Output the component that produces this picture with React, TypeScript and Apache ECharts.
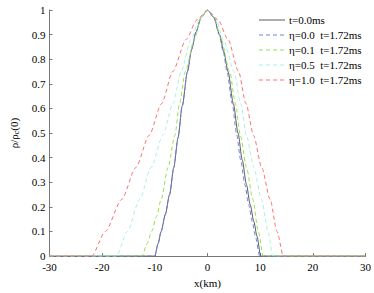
import React, { useEffect, useRef } from "react";
import * as echarts from "echarts";

const xTicks = [-30, -20, -10, 0, 10, 20, 30];
const yTicks = [0, 0.1, 0.2, 0.3, 0.4, 0.5, 0.6, 0.7, 0.8, 0.9, 1];

const seriesNames = [
  "t=0.0ms",
  "η=0.0  t=1.72ms",
  "η=0.1  t=1.72ms",
  "η=0.5  t=1.72ms",
  "η=1.0  t=1.72ms",
];

const initial: number[][] = [
  [-30, 0], [-10, 0], [-9.4, 0.05], [-8.8, 0.1], [-8.0, 0.17], [-7.2, 0.25], [-6.4, 0.36],
  [-5.6, 0.48], [-4.8, 0.61], [-3.8, 0.75], [-3.0, 0.84], [-2.2, 0.91], [-1.2, 0.97], [0, 1],
  [1.2, 0.97], [2.3, 0.9], [3.1, 0.83], [3.9, 0.75], [4.9, 0.62], [5.8, 0.5], [6.6, 0.39],
  [7.4, 0.29], [8.1, 0.21], [8.8, 0.14], [9.4, 0.08], [10.1, 0], [30, 0],
];

const eta00: number[][] = [
  [-30, 0], [-10, 0], [-9.4, 0.05], [-8.8, 0.1], [-8.0, 0.17], [-7.2, 0.25], [-6.4, 0.36],
  [-5.6, 0.48], [-4.8, 0.61], [-3.8, 0.75], [-3.0, 0.84], [-2.2, 0.91], [-1.2, 0.97], [0, 1],
  [1.2, 0.97], [2.2, 0.9], [3.0, 0.83], [3.7, 0.75], [4.7, 0.62], [5.5, 0.5], [6.3, 0.39],
  [7.1, 0.29], [7.8, 0.21], [8.5, 0.14], [9.1, 0.08], [9.9, 0], [30, 0],
];

const eta01: number[][] = [
  [-30, 0], [-12.4, 0], [-11.5, 0.05], [-10.6, 0.1], [-9.7, 0.16], [-8.8, 0.23], [-7.5, 0.36],
  [-6.2, 0.49], [-5.3, 0.62], [-4.2, 0.75], [-2.5, 0.88], [-1.2, 0.97], [0, 1], [1.3, 0.97],
  [2.6, 0.88], [4.2, 0.75], [5.3, 0.62], [6.25, 0.49], [7.4, 0.36], [8.6, 0.23], [9.65, 0.1],
  [10.6, 0], [30, 0],
];

const eta05: number[][] = [
  [-30, 0], [-17.3, 0], [-15.2, 0.1], [-12.9, 0.23], [-10.7, 0.36], [-8.5, 0.49], [-6.55, 0.62],
  [-5.0, 0.75], [-3.15, 0.88], [-1.6, 0.96], [0, 1], [1.5, 0.97], [3.0, 0.88], [5.05, 0.75],
  [6.3, 0.62], [7.4, 0.49], [8.8, 0.36], [10.25, 0.23], [11.5, 0.1], [12.4, 0], [30, 0],
];

const eta10: number[][] = [
  [-30, 0], [-22, 0], [-19.4, 0.1], [-16.3, 0.23], [-13.6, 0.36], [-11.1, 0.49], [-8.7, 0.62],
  [-6.6, 0.75], [-4.07, 0.88], [-2.0, 0.96], [0, 1], [2.0, 0.96], [3.9, 0.88], [5.9, 0.75],
  [7.3, 0.62], [8.75, 0.49], [10.3, 0.36], [11.9, 0.23], [13.2, 0.1], [14.4, 0], [30, 0],
];

const seriesData = [initial, eta00, eta01, eta05, eta10];
const colors = ["#5a5a5a", "#6f7fee", "#95e050", "#a8f2e2", "#ff7070"];
const dashed = [false, true, true, true, true];

const FONT = "Liberation Serif, Times New Roman, Times, serif";

export default function App() {
  const ref = useRef<HTMLDivElement>(null);
  useEffect(() => {
    if (!ref.current) return;
    const chart = echarts.init(ref.current, undefined, { renderer: "svg" });
    const legendGraphics: any[] = [];
    seriesNames.forEach((name, i) => {
      const y = 20 + i * 15;
      legendGraphics.push({
        type: "line",
        shape: { x1: 259, y1: y, x2: 285, y2: y },
        style: {
          stroke: colors[i],
          lineWidth: 1,
          lineDash: dashed[i] ? [4, 3] : null,
        },
        z: 10,
      });
      legendGraphics.push({
        type: "text",
        x: 289,
        y: y,
        style: {
          text: name,
          fontFamily: FONT,
          fontSize: 11,
          fill: "#000",
          verticalAlign: "middle",
          align: "left",
        },
        z: 10,
      });
    });
    chart.setOption({
      animation: false,
      backgroundColor: "#ffffff",
      grid: { left: 42, right: 8, top: 10, bottom: 28, containLabel: false },
      graphic: legendGraphics,
      xAxis: {
        type: "value",
        min: xTicks[0],
        max: xTicks[xTicks.length - 1],
        interval: 10,
        name: "x(km)",
        nameLocation: "middle",
        nameGap: 20,
        nameTextStyle: { fontFamily: FONT, fontSize: 11, color: "#000" },
        axisLine: { onZero: false, lineStyle: { color: "#777", width: 1 } },
        axisTick: { inside: true, length: 3, lineStyle: { color: "#777" } },
        axisLabel: { fontFamily: FONT, fontSize: 11, color: "#000", margin: 5 },
        splitLine: { show: false },
      },
      yAxis: {
        type: "value",
        min: yTicks[0],
        max: yTicks[yTicks.length - 1],
        interval: 0.1,
        name: "{a|ρ/ρ}{s|c}{a|(0)}",
        nameLocation: "middle",
        nameGap: 29,
        nameRotate: 90,
        nameTextStyle: {
          fontFamily: FONT,
          color: "#000",
          rich: {
            a: { fontFamily: FONT, fontSize: 11, color: "#000" },
            s: { fontFamily: FONT, fontSize: 8, color: "#000", padding: [6, 0, 0, 0] },
          },
        },
        axisLine: { show: true, onZero: false, lineStyle: { color: "#777", width: 1 } },
        axisTick: { show: true, inside: true, length: 3, lineStyle: { color: "#777" } },
        axisLabel: {
          fontFamily: FONT,
          fontSize: 11,
          color: "#000",
          margin: 4,
          formatter: (v: number) => String(+v.toFixed(1)),
        },
        splitLine: { show: false },
      },
      series: seriesData.map((d, i) => ({
        name: seriesNames[i],
        type: "line",
        data: d,
        symbol: "none",
        smooth: 0.25,
        smoothMonotone: "x",
        lineStyle: { color: colors[i], width: 1, type: dashed[i] ? [4, 3] : "solid" },
        itemStyle: { color: colors[i] },
      })),
    });
    return () => chart.dispose();
  }, []);
  return (
    <div
      ref={ref}
      style={{ position: "fixed", left: 0, top: 0, width: 374, height: 293 }}
    />
  );
}
